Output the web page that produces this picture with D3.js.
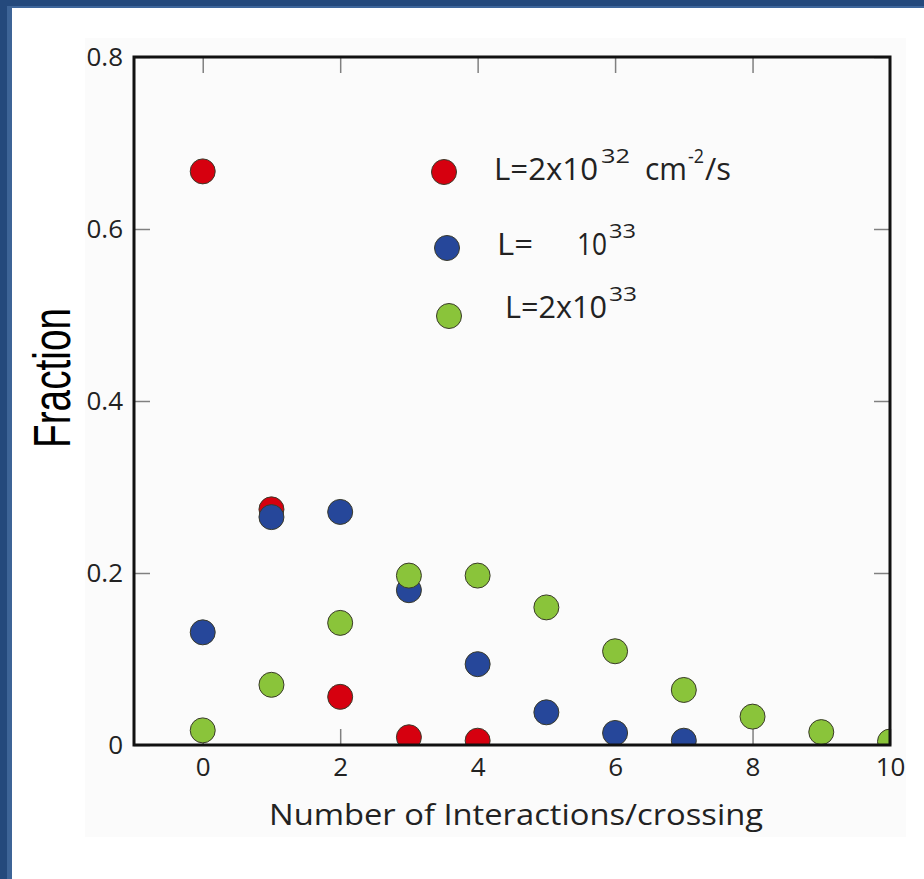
<!DOCTYPE html>
<html>
<head>
<meta charset="utf-8">
<script src="https://cdn.jsdelivr.net/npm/d3@7"></script>
<style>
  html, body { margin: 0; padding: 0; background: #fff; }
  svg { display: block; }
</style>
</head>
<body>
<div id="chart"></div>
<script>
// values
var interactions = [0, 1, 2, 3, 4, 5, 6, 7, 8, 9, 10];
var fracLow  = [0.667, 0.274, 0.056, 0.009, 0.005];                               // L=2x10^32
var fracMid  = [0.131, 0.265, 0.271, 0.180, 0.094, 0.038, 0.014, 0.005];          // L=10^33
var fracHigh = [0.017, 0.070, 0.142, 0.197, 0.197, 0.160, 0.109, 0.064, 0.033, 0.015, 0.004]; // L=2x10^33
var xTicks = [0, 2, 4, 6, 8, 10];
var yTicks = [0, 0.2, 0.4, 0.6, 0.8];

var W = 924, H = 879;
var plot = { left: 134, right: 890, top: 57, bottom: 745 };

var svg = d3.select("#chart").append("svg")
  .attr("width", W).attr("height", H);

// blue slide frame
svg.append("rect").attr("x", 0).attr("y", 0).attr("width", W).attr("height", 8).attr("fill", "#24497c");
svg.append("rect").attr("x", 0).attr("y", 6).attr("width", W).attr("height", 2).attr("fill", "#3f679c");
svg.append("rect").attr("x", 0).attr("y", 0).attr("width", 12).attr("height", H).attr("fill", "#24497c");
svg.append("rect").attr("x", 7).attr("y", 6).attr("width", 5).attr("height", H).attr("fill", "#3d6497");

// faint panel behind the figure
svg.append("rect").attr("x", 85).attr("y", 38).attr("width", 821).attr("height", 799).attr("fill", "#fbfbfb");

var x = d3.scaleLinear().domain([-1, 10]).range([plot.left, plot.right]);
var y = d3.scaleLinear().domain([0, 0.8]).range([plot.bottom, plot.top]);

var tickFont = "'Open Sans', 'Noto Sans', sans-serif";

function styleAxis(g) {
  g.select(".domain").remove();
  g.selectAll(".tick line").attr("stroke", "#808080").attr("stroke-width", 1.5);
  g.selectAll(".tick text").attr("fill", "#222").style("font-family", tickFont).style("font-size", "26px");
}

// bottom axis, ticks pointing in
svg.append("g")
  .attr("transform", "translate(0," + plot.bottom + ")")
  .call(d3.axisBottom(x).tickValues(xTicks).tickSize(-16).tickPadding(13).tickFormat(d3.format("d")))
  .call(styleAxis);

// top axis, ticks only
svg.append("g")
  .attr("transform", "translate(0," + plot.top + ")")
  .call(d3.axisTop(x).tickValues(xTicks.slice(0, 5)).tickSize(-16).tickFormat(""))
  .call(styleAxis);

// left axis
svg.append("g")
  .attr("transform", "translate(" + plot.left + ",0)")
  .call(d3.axisLeft(y).tickValues(yTicks).tickSize(-16).tickPadding(11)
    .tickFormat(function(d) { return d === 0 ? "0" : d3.format(".1f")(d); }))
  .call(styleAxis);

// right axis, ticks only
svg.append("g")
  .attr("transform", "translate(" + plot.right + ",0)")
  .call(d3.axisRight(y).tickValues(yTicks.slice(1)).tickSize(-16).tickFormat(""))
  .call(styleAxis);

// points, clipped to the plot box
svg.append("clipPath").attr("id", "clip")
  .append("rect")
  .attr("x", plot.left).attr("y", plot.top)
  .attr("width", plot.right - plot.left).attr("height", plot.bottom - plot.top);

var series = [
  { name: "low",  color: "#d6000f", values: fracLow },
  { name: "mid",  color: "#26479a", values: fracMid },
  { name: "high", color: "#8ac43a", values: fracHigh }
];

var pts = svg.append("g").attr("clip-path", "url(#clip)");
series.forEach(function(s) {
  pts.selectAll("circle." + s.name)
    .data(s.values)
    .enter().append("circle")
    .attr("class", s.name)
    .attr("cx", function(d, i) { return x(interactions[i]); })
    .attr("cy", function(d) { return y(d); })
    .attr("r", 12.5)
    .attr("fill", s.color)
    .attr("stroke", "#3a3a2a")
    .attr("stroke-width", 1);
});

// frame
svg.append("rect")
  .attr("x", plot.left).attr("y", plot.top)
  .attr("width", plot.right - plot.left).attr("height", plot.bottom - plot.top)
  .attr("fill", "none").attr("stroke", "#111").attr("stroke-width", 3);

// axis titles
svg.append("text")
  .attr("x", 269).attr("y", 825)
  .attr("textLength", 494).attr("lengthAdjust", "spacingAndGlyphs")
  .style("font-family", tickFont).style("font-size", "29px").attr("fill", "#222")
  .text("Number of Interactions/crossing");

svg.append("text")
  .attr("transform", "translate(70,448) rotate(-90)")
  .attr("textLength", 140).attr("lengthAdjust", "spacingAndGlyphs")
  .style("font-family", "'Liberation Sans', Arial, sans-serif").style("font-size", "51px").attr("fill", "#000")
  .text("Fraction");

// legend: one text per entry, pieces as tspans (superscripts raised)
var legendFont = "'Open Sans', 'Noto Sans', sans-serif";
var legend = [
  { color: "#d6000f", cx: 444, cy: 172, base: 180, parts: [
    { t: "L=2x10", x: 494, w: 104, sup: false },
    { t: "32", x: 601, w: 29, sup: true },
    { t: "cm", x: 645, w: 42, sup: false },
    { t: "-2", x: 688, w: 16, sup: true },
    { t: "/s", x: 705, w: 26, sup: false }
  ]},
  { color: "#26479a", cx: 447, cy: 248, base: 255, parts: [
    { t: "L=", x: 497, w: 36, sup: false },
    { t: "10", x: 577, w: 30, sup: false },
    { t: "33", x: 609, w: 27, sup: true }
  ]},
  { color: "#8ac43a", cx: 449, cy: 316, base: 318, parts: [
    { t: "L=2x10", x: 505, w: 102, sup: false },
    { t: "33", x: 609, w: 28, sup: true }
  ]}
];

legend.forEach(function(l) {
  svg.append("circle")
    .attr("cx", l.cx).attr("cy", l.cy).attr("r", 12.5)
    .attr("fill", l.color).attr("stroke", "#3a3a2a").attr("stroke-width", 1);
  var txt = svg.append("text")
    .style("font-family", legendFont)
    .attr("fill", "#222");
  l.parts.forEach(function(p) {
    txt.append("tspan")
      .attr("x", p.x)
      .attr("y", p.sup ? l.base - 17 : l.base)
      .attr("textLength", p.w).attr("lengthAdjust", "spacingAndGlyphs")
      .style("font-size", p.sup ? "20px" : "31px")
      .text(p.t);
  });
});
</script>
</body>
</html>
